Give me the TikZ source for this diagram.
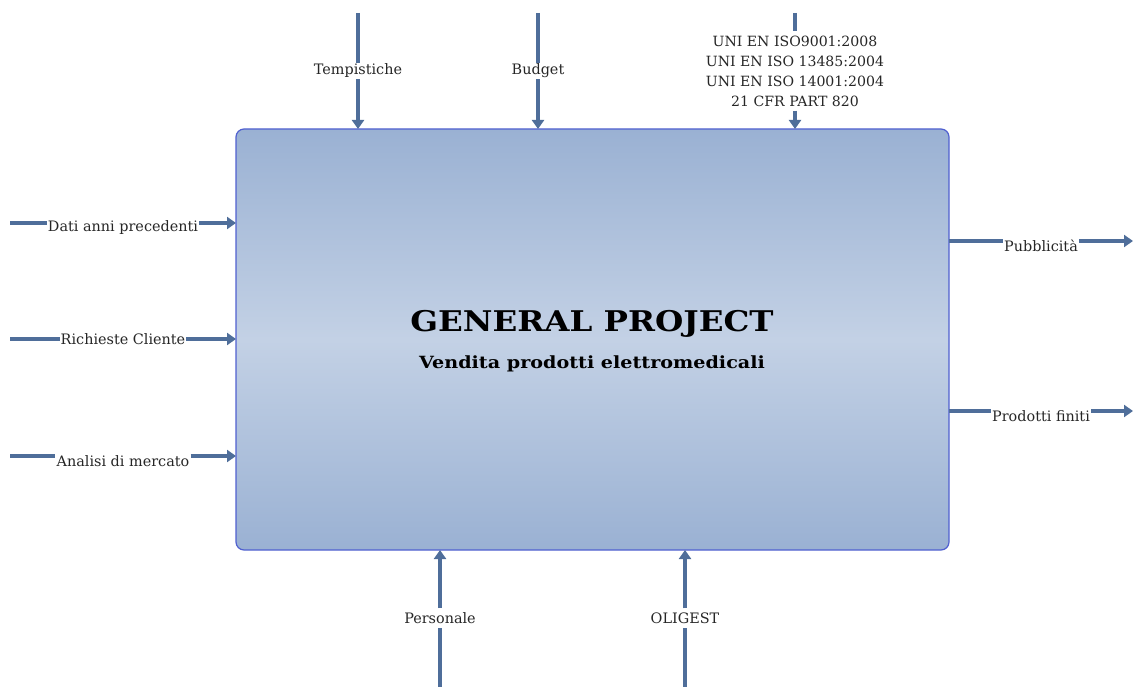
\documentclass[tikz,border=0pt]{standalone}
\usepackage{fontspec}
\setmainfont{DejaVu Serif}
\newfontfamily\widefont[FakeStretch=1.14]{DejaVu Serif}
\usetikzlibrary{arrows.meta}
\definecolor{flow}{HTML}{4F6E9A}
\definecolor{edgeblue}{HTML}{5060D0}
\definecolor{shadeout}{HTML}{9AB1D3}
\definecolor{shadein}{HTML}{C3D1E5}
\tikzset{
  flowline/.style={draw=flow, line width=4pt},
  flowarrow/.style={flowline, -{Triangle[length=9pt,width=12pt]}},
  lbl/.style={inner sep=1pt, font=\fontsize{14.4}{18}\selectfont, text=black!85},
  mainbox/.style={draw=edgeblue, line width=1.2pt, rounded corners=8pt,
    top color=shadeout, bottom color=shadeout, middle color=shadein},
}
\begin{document}
\begin{tikzpicture}[x=1pt,y=-1pt]
\useasboundingbox (0,0) rectangle (1137,687);
% central activity box
\path[mainbox] (236,129) rectangle (949,550);
\node[font=\widefont\bfseries\fontsize{28.5}{32}\selectfont] (title) at (592,324) {GENERAL PROJECT};
\node[font=\widefont\bfseries\fontsize{16.8}{22}\selectfont] (sub) at (592,364) {Vendita prodotti elettromedicali};

% controls from the top
\coordinate (t1s) at (358,13); \coordinate (t1e) at (358,129);
\node[lbl] (t1) at (358,71) {Tempistiche};
\draw[flowline] (t1s) -- (t1.north);
\draw[flowarrow] (t1.south) -- (t1e);

\coordinate (t2s) at (538,13); \coordinate (t2e) at (538,129);
\node[lbl] (t2) at (538,71) {Budget};
\draw[flowline] (t2s) -- (t2.north);
\draw[flowarrow] (t2.south) -- (t2e);

\coordinate (t3s) at (795,13); \coordinate (t3e) at (795,129);
\node[lbl, align=center, inner ysep=4pt, font=\fontsize{14.1}{20}\selectfont] (t3) at (795,71)
  {UNI EN ISO9001:2008\\UNI EN ISO 13485:2004\\UNI EN ISO 14001:2004\\21 CFR PART 820};
\draw[flowline] (t3s) -- (t3.north);
\draw[flowarrow] (t3.south) -- (t3e);

% inputs from the left
\coordinate (l1s) at (10,223); \coordinate (l1e) at (236,223);
\node[lbl] (l1) at (123,228) {Dati anni precedenti};
\draw[flowline] (l1s) -- (l1s -| l1.west);
\draw[flowarrow] (l1e -| l1.east) -- (l1e);

\coordinate (l2s) at (10,339); \coordinate (l2e) at (236,339);
\node[lbl] (l2) at (123,339) {Richieste Cliente};
\draw[flowline] (l2s) -- (l2s -| l2.west);
\draw[flowarrow] (l2e -| l2.east) -- (l2e);

\coordinate (l3s) at (10,456); \coordinate (l3e) at (236,456);
\node[lbl] (l3) at (123,461) {Analisi di mercato};
\draw[flowline] (l3s) -- (l3s -| l3.west);
\draw[flowarrow] (l3e -| l3.east) -- (l3e);

% outputs to the right
\coordinate (r1s) at (949,241); \coordinate (r1e) at (1133,241);
\node[lbl] (r1) at (1041,246) {Pubblicità};
\draw[flowline] (r1s) -- (r1s -| r1.west);
\draw[flowarrow] (r1e -| r1.east) -- (r1e);

\coordinate (r2s) at (949,411); \coordinate (r2e) at (1133,411);
\node[lbl] (r2) at (1041,416) {Prodotti finiti};
\draw[flowline] (r2s) -- (r2s -| r2.west);
\draw[flowarrow] (r2e -| r2.east) -- (r2e);

% mechanisms from below
\coordinate (b1s) at (440,687); \coordinate (b1e) at (440,550);
\node[lbl, inner ysep=4pt] (b1) at (440,618) {Personale};
\draw[flowline] (b1s) -- (b1.south);
\draw[flowarrow] (b1.north) -- (b1e);

\coordinate (b2s) at (685,687); \coordinate (b2e) at (685,550);
\node[lbl, inner ysep=4pt] (b2) at (685,618) {OLIGEST};
\draw[flowline] (b2s) -- (b2.south);
\draw[flowarrow] (b2.north) -- (b2e);
\end{tikzpicture}
\end{document}
